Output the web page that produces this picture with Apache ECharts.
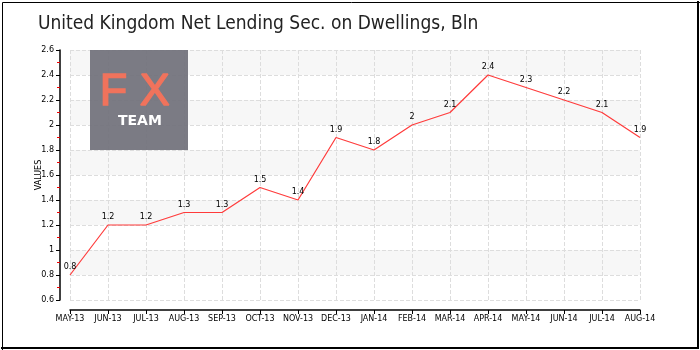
<!DOCTYPE html>
<html><head><meta charset="utf-8">
<script src="https://cdn.jsdelivr.net/npm/echarts@6/dist/echarts.min.js"></script>
<style>html,body{margin:0;padding:0;background:#fff}#c{width:700px;height:350px}</style>
</head><body><div id="c"></div>
<script>
const categories = ['MAY-13','JUN-13','JUL-13','AUG-13','SEP-13','OCT-13','NOV-13','DEC-13','JAN-14','FEB-14','MAR-14','APR-14','MAY-14','JUN-14','JUL-14','AUG-14'];
const values = [0.8,1.2,1.2,1.3,1.3,1.5,1.4,1.9,1.8,2,2.1,2.4,2.3,2.2,2.1,1.9];
const yMin = 0.6, yMax = 2.6, yStep = 0.2;
const titleText = 'United Kingdom Net Lending Sec. on Dwellings, Bln';
const yName = 'VALUES';

const chart = echarts.init(document.getElementById('c'));
chart.setOption({
  animation: false,
  title: { text: titleText, left: 33, top: 10,
    textStyle: { fontFamily: 'DejaVu Sans Condensed', fontWeight: 'normal', fontSize: 19, color: '#222' } },
  grid: { left: 70, right: 60, top: 50, bottom: 50 },
  xAxis: {
    type: 'category', data: categories, boundaryGap: false, offset: 10,
    axisLine: { lineStyle: { color: '#000', width: 1.5 } },
    axisTick: { alignWithLabel: true, length: 4, lineStyle: { color: '#000' } },
    axisLabel: { color: '#000', fontFamily: 'DejaVu Sans', fontSize: 8, margin: 5, interval: 0 },
    splitLine: { show: true, lineStyle: { color: '#ddd', type: 'dashed' } }
  },
  yAxis: {
    type: 'value', min: yMin, max: yMax, interval: yStep, offset: 10,
    name: yName, nameLocation: 'middle', nameGap: 17, nameRotate: 90, nameMoveOverlap: false,
    nameTextStyle: { color: '#000', fontFamily: 'DejaVu Sans', fontSize: 8 },
    axisLine: { show: true, lineStyle: { color: '#000', width: 1.5 } },
    axisTick: { show: true, length: 4, lineStyle: { color: '#000' } },
    minorTick: { show: true, splitNumber: 2, length: 3, lineStyle: { color: '#e00' } },
    axisLabel: { color: '#000', fontFamily: 'DejaVu Sans', fontSize: 8, margin: 6,
      formatter: v => String(Math.round(v * 10) / 10) },
    splitLine: { show: true, lineStyle: { color: '#ddd', type: 'dashed' } },
    splitArea: { show: true, areaStyle: { color: ['#ffffff', '#f7f7f7'] } }
  },
  series: [{
    type: 'line', data: values, symbol: 'circle', symbolSize: 2, showSymbol: true,
    itemStyle: { color: 'rgba(255,59,59,0)', borderWidth: 0 },
    lineStyle: { color: '#ff3b3b', width: 1.2 },
    label: { show: true, position: 'top', distance: 3, color: '#000', fontFamily: 'DejaVu Sans', fontSize: 8 },
    z: 5
  }],
  graphic: [
    { type: 'rect', left: 90, top: 50, shape: { width: 98, height: 100 }, style: { fill: 'rgba(112,112,122,0.92)' }, z: 10 },
    { type: 'text', left: 99, top: 69, style: { text: 'F', fill: '#f0735c', stroke: '#f0735c', lineWidth: 1.5, font: '45px "Liberation Sans"' }, z: 11 },
    { type: 'text', left: 139, top: 69, style: { text: 'X', fill: '#f0735c', stroke: '#f0735c', lineWidth: 1.5, font: '45px "Liberation Sans"' }, z: 11 },
    { type: 'text', left: 118, top: 114, style: { text: 'TEAM', fill: '#ffffff', font: 'bold 14px "DejaVu Sans"' }, z: 11 },
    { type: 'rect', left: 0, top: 0, shape: { x: 0.5, y: 0.5, width: 698, height: 348 }, style: { fill: 'none', stroke: '#000', lineWidth: 1 }, z: 20 },
    { type: 'polyline', shape: { points: [[698, 1], [698, 348], [1, 348]] }, style: { fill: 'none', stroke: '#000', lineWidth: 2 }, z: 20 }
  ]
});
</script></body></html>
